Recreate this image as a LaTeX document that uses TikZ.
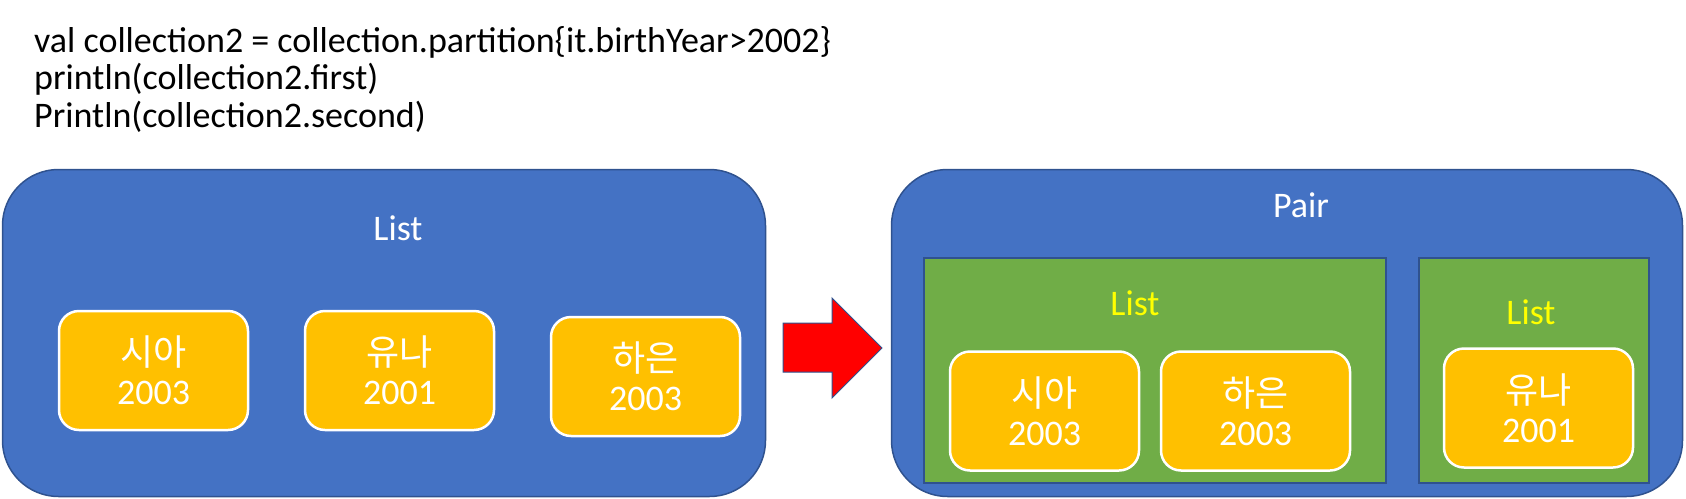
\documentclass[tikz,border=0pt]{standalone}
\usepackage{fontspec}
\setmainfont{Carlito}
\newfontfamily\kr{Noto Sans CJK KR}
\definecolor{boxblue}{HTML}{4472C4}
\definecolor{edgeblue}{HTML}{2F528F}
\definecolor{personfill}{HTML}{FFC000}
\definecolor{groupgreen}{HTML}{70AD47}
\definecolor{labelyellow}{HTML}{FFFF00}
\tikzset{
  bigbox/.style={draw=edgeblue, line width=1.5pt, fill=boxblue, rounded corners=56pt, inner sep=0pt},
  greenbox/.style={draw=edgeblue, line width=1.5pt, fill=groupgreen, inner sep=0pt},
  person/.style={draw=white, line width=2.5pt, fill=personfill, rounded corners=20pt,
    minimum width=189pt, minimum height=119pt, inner sep=0pt, text=white, align=center,
    font=\fontsize{36}{39}\selectfont},
  title/.style={font=\fontsize{36}{40}\selectfont, inner sep=0pt},
  redarrow/.style={draw=edgeblue, line width=1pt, fill=red, line join=miter},
}
\begin{document}
\begin{tikzpicture}[x=1pt,y=-1pt]
\useasboundingbox (0,0) rectangle (1686,498);
% code text
\node[anchor=north west, inner sep=0pt, align=left, font=\fontsize{36}{37.6}\selectfont] (code) at (34,26)
  {val collection2 = collection.partition\{it.birthYear>2002\}\\println(collection2.first)\\Println(collection2.second)};
% left list
\node[bigbox, minimum width=763pt, minimum height=327pt] (src) at (384,333) {};
\node[title, text=white] (srclabel) at (398,228) {List};
\node[person] (s1) at (153.5,370.5) {{\kr 시아}\\2003};
\node[person] (s2) at (399.5,370.5) {{\kr 유나}\\2001};
\node[person] (s3) at (645.5,376.5) {{\kr 하은}\\2003};
% right pair
\node[bigbox, minimum width=791pt, minimum height=327pt] (pair) at (1287,333) {};
\node[title, text=white] (pairlabel) at (1301,205) {Pair};
\node[greenbox, minimum width=462pt, minimum height=225pt] (first) at (1155,370.5) {};
\node[greenbox, minimum width=230pt, minimum height=225pt] (second) at (1534,370.5) {};
\node[title, text=labelyellow] (firstlabel) at (1135,303) {List};
\node[title, text=labelyellow] (secondlabel) at (1531,312) {List};
\node[person] (f1) at (1044.5,411) {{\kr 시아}\\2003};
\node[person] (f2) at (1255.5,411) {{\kr 하은}\\2003};
\node[person] (g1) at (1538.5,408) {{\kr 유나}\\2001};
% arrow
\draw[redarrow] (783,323) -- (832,323) -- (832,298) -- (882,348) -- (832,398) -- (832,372) -- (783,372) -- cycle;
\end{tikzpicture}
\end{document}
